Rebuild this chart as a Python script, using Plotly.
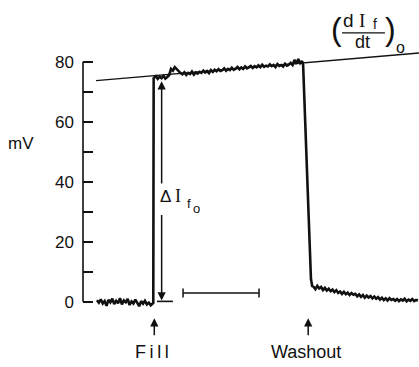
import numpy as np
import plotly.graph_objects as go

# ---------------- data (time in s, signal in mV) ----------------
base_start, base_end = 11.0, 55.0
base_v = [0.5, -0.3, 0.8, -0.6, 0.2, -1.4, 0.6, -0.2, 1.0, -0.8, 0.3, -0.5, 1.2, -0.9, 0.4,
          -0.2, 0.9, -1.1, 0.1, -0.6, 0.7, -0.4, -1.5, 0.2, -0.7, 0.3, -0.9, -0.3, -1.2, -0.6]

rise_t = [55.5, 55.8]
rise_v = [-0.4, 74.8]

plat_start, plat_end = 56.0, 173.0
plat_v = [74.6, 75.2, 74.3, 75.0, 74.5, 75.3, 74.4, 74.9, 75.5,
          77.6, 77.0, 78.2, 77.4, 76.6,
          76.2, 75.8, 76.5, 75.6, 76.3, 75.9, 76.7, 75.7, 76.4, 76.0, 76.6,
          76.3, 77.0, 76.4, 76.9, 76.2, 77.2, 76.6, 77.3, 76.8, 77.5, 76.9, 77.2, 77.8,
          77.0, 77.6, 77.2, 78.0, 77.3, 77.7, 78.3, 77.5, 78.1, 77.6, 78.4, 77.8, 78.2,
          78.6, 77.9, 78.5, 78.1, 78.8, 78.2, 79.0, 78.3, 78.7, 78.4, 79.1, 78.5, 78.9,
          78.2, 79.2, 78.6, 78.9, 78.4, 79.3, 78.7, 79.0,
          79.6, 78.9, 80.6, 79.3, 80.9, 79.5, 80.2]

drop_t = [173.8, 180.0, 181.0]
drop_v = [79.0, 7.5, 5.2]

decay_start, decay_end = 182.0, 264.5
decay_v = [5.0, 4.2, 5.3, 4.4, 4.9, 3.9, 4.6, 3.7, 4.3, 3.5, 4.0,
           3.2, 3.8, 2.9, 3.4, 2.6, 3.3, 2.5, 3.0, 2.2, 2.9, 2.3,
           2.6, 1.8, 2.4, 1.6, 2.2, 1.3, 2.0, 1.4, 1.9, 1.1, 1.7,
           1.0, 1.5, 0.7, 1.3, 0.5, 1.1, 0.4, 1.2, 0.6, 0.9, 0.3,
           0.9, 0.2, 0.8, 0.4, 1.0, 0.1, 0.7, 0.3, 0.9, 0.2, 0.6, 0.4]

slope_t = [10.3, 265.3]
slope_v = [73.7, 82.9]

dI_t = 62.1
dI_top, dI_gap_top, dI_gap_bot, dI_bot = 73.5, 38.9, 29.4, 0.4

scale_t = [79.0, 139.0]
scale_v = 2.9

fill_t = 56.3
washout_t = 177.8

ytick_vals = [0, 10, 20, 30, 40, 50, 60, 70, 80]
ytick_text = ["0", "", "20", "", "40", "", "60", "", "80"]

# ---------------- build trace ----------------
base_t = np.linspace(base_start, base_end, len(base_v))
plat_t = np.linspace(plat_start, plat_end, len(plat_v))
decay_t = np.linspace(decay_start, decay_end, len(decay_v))

trace_t = list(base_t) + rise_t + list(plat_t) + drop_t + list(decay_t)
trace_v = base_v + rise_v + plat_v + drop_v + decay_v

INK = "#111111"
FONT = "Liberation Sans"

fig = go.Figure()
fig.add_trace(go.Scatter(x=trace_t, y=trace_v, mode="lines",
                         line=dict(color=INK, width=2.6), hoverinfo="skip"))
fig.add_trace(go.Scatter(x=slope_t, y=slope_v, mode="lines",
                         line=dict(color=INK, width=1.3), hoverinfo="skip"))
# scale bar with end caps
cap = 1.5
sb_x = [scale_t[0], scale_t[1], None, scale_t[0], scale_t[0], None, scale_t[1], scale_t[1]]
sb_y = [scale_v, scale_v, None, scale_v - cap, scale_v + cap, None, scale_v - cap, scale_v + cap]
fig.add_trace(go.Scatter(x=sb_x, y=sb_y, mode="lines",
                         line=dict(color=INK, width=1.5), hoverinfo="skip"))
# delta-I baseline bar
fig.add_trace(go.Scatter(x=[dI_t - 3.7, dI_t + 8.9], y=[0.1, 0.1], mode="lines",
                         line=dict(color=INK, width=1.6), hoverinfo="skip"))

ann = []
def arrow(x, y_head, y_tail):
    ann.append(dict(x=x, y=y_head, ax=x, ay=y_tail, xref="x", yref="y",
                    axref="x", ayref="y", showarrow=True, arrowhead=2,
                    arrowsize=1.1, arrowwidth=1.5, arrowcolor=INK, text=""))

arrow(dI_t, dI_top, dI_gap_top)
arrow(dI_t, dI_bot, dI_gap_bot)
arrow(fill_t, -5.5, -11.7)
arrow(washout_t, -5.5, -11.7)

def txt(x, y, s, size, family=FONT, xref="x"):
    ann.append(dict(x=x, y=y, xref=xref, yref="y", text=s, showarrow=False,
                    font=dict(family=family, size=size, color=INK),
                    xanchor="center", yanchor="middle"))

txt(54.2, -16.7, "F\u2009i\u2009l\u2009l", 18)
txt(176.0, -16.7, "Washout", 18)
txt(-0.185, 52.6, "mV", 17, xref="paper")

# delta I f o label
txt(65.5, 35.2, "Δ", 17)
txt(75.4, 35.2, "I", 18, family="Liberation Serif")
txt(83.7, 32.9, "f", 13)
txt(90.0, 31.0, "o", 13)

# (dIf/dt)o label
txt(200.1, 90.9, "(", 32)
txt(210.0, 93.6, "d", 19)
txt(220.3, 93.6, "I", 19, family="Liberation Serif")
txt(230.6, 92.6, "f", 14)
txt(220.7, 86.6, "dt", 18)
txt(242.6, 90.9, ")", 32)
txt(250.8, 84.8, "o", 16)

shapes = [
    dict(type="line", xref="paper", yref="y", x0=0, x1=0, y0=0, y1=80,
         line=dict(color=INK, width=1.6)),
    dict(type="line", xref="x", yref="y", x0=204.5, x1=238.4, y0=89.6, y1=89.6,
         line=dict(color=INK, width=1.2)),
]

fig.update_layout(
    width=419, height=367,
    margin=dict(l=83, r=0, t=0, b=0),
    paper_bgcolor="white", plot_bgcolor="white",
    showlegend=False,
    annotations=ann, shapes=shapes,
    xaxis=dict(range=[0, 265.3], visible=False, fixedrange=True),
    yaxis=dict(range=[-21.77, 100.57], showgrid=False, zeroline=False, showline=False,
               tickvals=ytick_vals, ticktext=ytick_text, ticks="inside",
               ticklen=10, tickwidth=1.5, tickcolor=INK, ticklabelstandoff=8,
               tickfont=dict(family=FONT, size=17, color=INK), fixedrange=True),
)

fig.write_html("out.html", config={"displayModeBar": False},
               post_script="document.body.style.margin='0px';document.body.style.overflow='hidden';")
